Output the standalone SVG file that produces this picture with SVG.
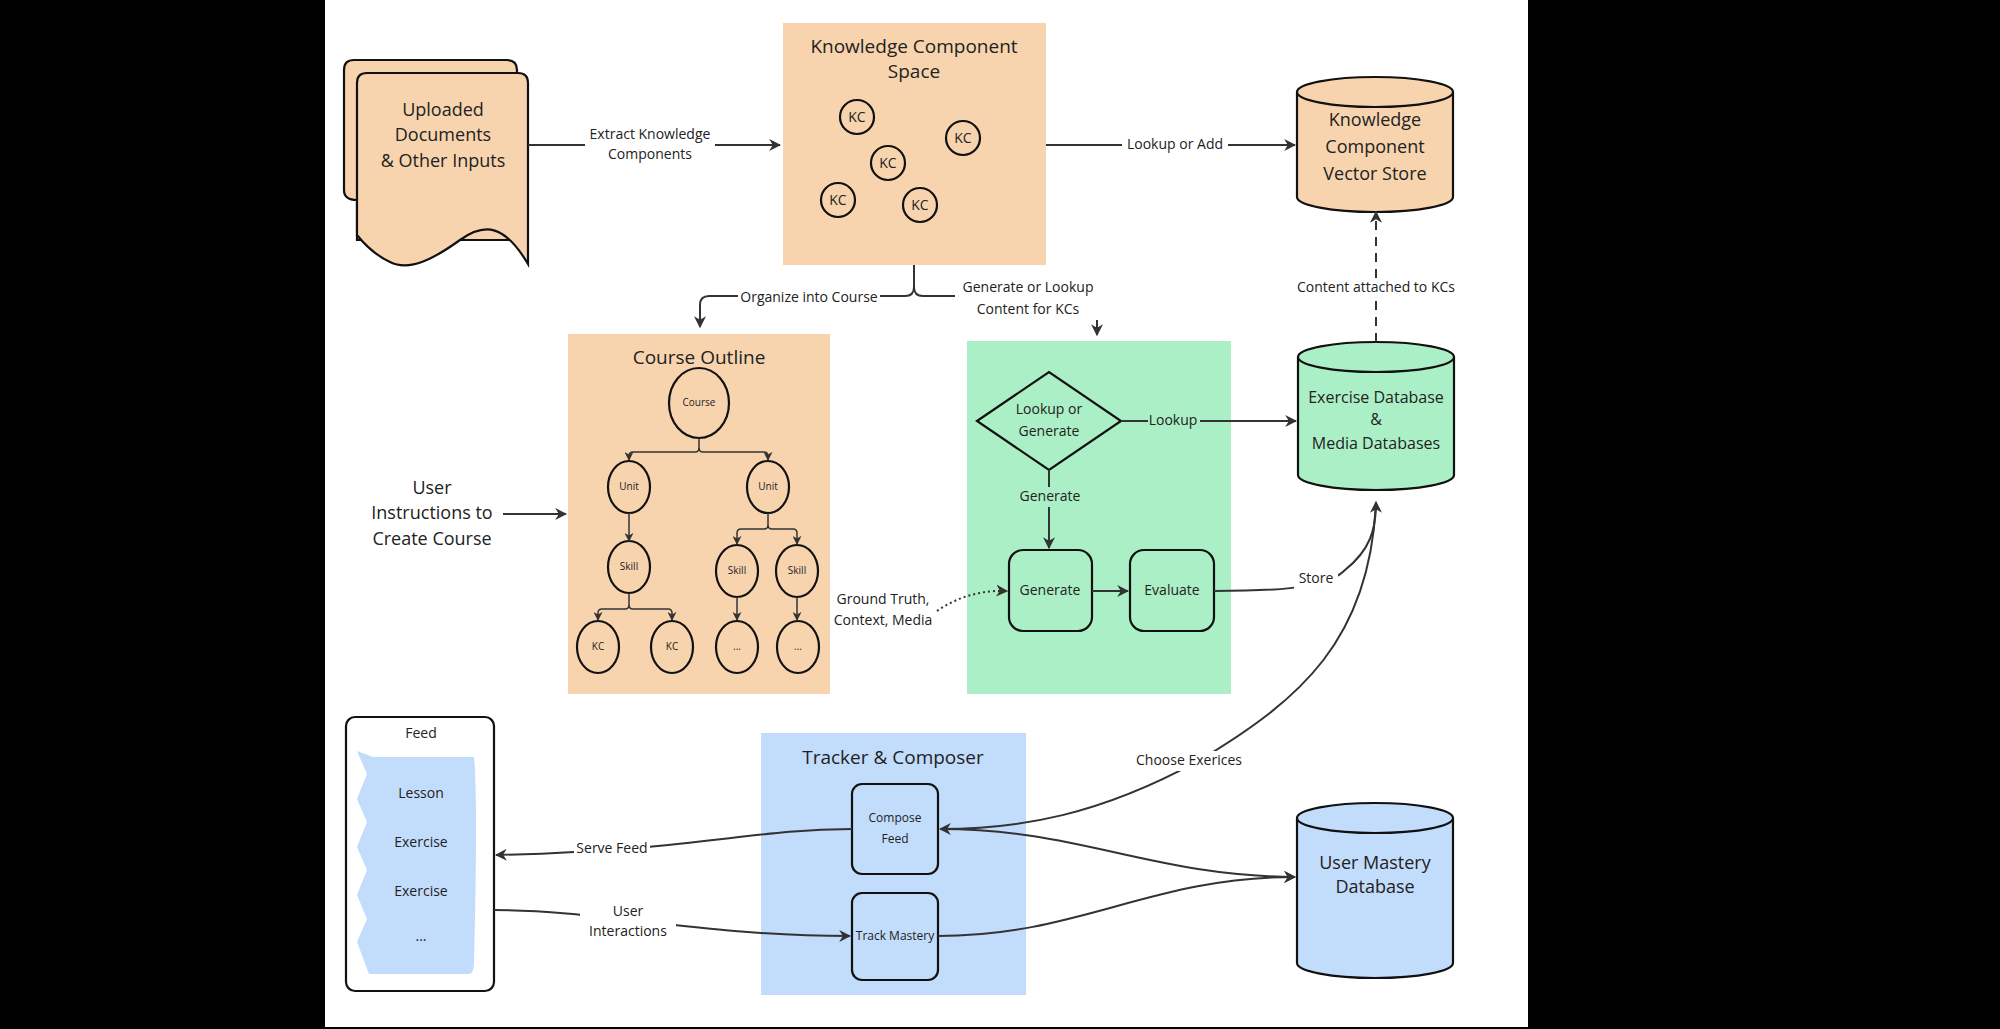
<svg xmlns="http://www.w3.org/2000/svg" width="2000" height="1029" viewBox="0 0 2000 1029">
<defs>
<style>
text{font-family:"Open Sans","Noto Sans",sans-serif;fill:#222;text-anchor:middle;dominant-baseline:middle}
.t{font-size:18px}.s{font-size:14px}.xs{font-size:10px}.h{font-size:19px}
.sh{stroke:#111;stroke-width:2.2}
.c{fill:none;stroke:#333;stroke-width:2}
.peach{fill:#f7d4ae}.green{fill:#abefc6}.blue{fill:#c2dcfb}
.lbl{fill:#fff}
</style>
<marker id="a" viewBox="0 0 10 10" refX="9" refY="5" markerWidth="6" markerHeight="6" orient="auto-start-reverse"><path d="M0,0L10,5L0,10L3,5z" fill="#333"/></marker>
</defs>
<rect width="2000" height="1029" fill="#000"/>
<rect x="325" y="0" width="1203" height="1027" fill="#fff"/>

<g id="docs">
<path class="peach sh" d="M344,70q0,-10 10,-10h153q10,0 10,10v170h-160v-40q-13,0 -13,-10z"/>
<path class="peach sh" d="M357,83q0,-10 10,-10h151q10,0 10,10v181C505,225 485,222 460,240C435,258 410,272 390,262C375,255 365,245 357,235z"/>
<text class="t" x="443" y="111">Uploaded</text><text class="t" x="443" y="136">Documents</text><text class="t" x="443" y="162">&amp; Other Inputs</text>
</g>
<g id="kcspace">
<rect class="peach" x="783" y="23" width="263" height="242"/>
<text class="h" x="914" y="48">Knowledge Component</text><text class="h" x="914" y="73">Space</text>
<g class="sh" fill="none"><circle cx="857" cy="117" r="17"/><circle cx="963" cy="138" r="17"/><circle cx="888" cy="163" r="17"/><circle cx="838" cy="200" r="17"/><circle cx="920" cy="205" r="17"/></g>
<g class="s"><text x="857" y="118">KC</text><text x="963" y="139">KC</text><text x="888" y="164">KC</text><text x="838" y="201">KC</text><text x="920" y="206">KC</text></g>
</g>
<g id="kcstore">
<path class="peach sh" d="M1297,92v105a78,15 0 0 0 156,0v-105"/>
<ellipse class="peach sh" cx="1375" cy="92" rx="78" ry="15"/>
<text class="t" x="1375" y="121">Knowledge</text><text class="t" x="1375" y="148">Component</text><text class="t" x="1375" y="175">Vector Store</text>
</g>
<g id="course">
<rect class="peach" x="568" y="334" width="262" height="360"/>
<text class="h" x="699" y="359">Course Outline</text>
<g class="sh" fill="none">
<ellipse cx="699" cy="403" rx="30" ry="35"/>
<ellipse cx="629" cy="487" rx="21" ry="26"/><ellipse cx="768" cy="487" rx="21" ry="26"/>
<ellipse cx="629" cy="567" rx="21" ry="26"/><ellipse cx="737" cy="571" rx="21" ry="26"/><ellipse cx="797" cy="571" rx="21" ry="26"/>
<ellipse cx="598" cy="647" rx="21" ry="26"/><ellipse cx="672" cy="647" rx="21" ry="26"/><ellipse cx="737" cy="647" rx="21" ry="26"/><ellipse cx="798" cy="647" rx="21" ry="26"/>
</g>
<g class="xs"><text x="699" y="403">Course</text><text x="629" y="487">Unit</text><text x="768" y="487">Unit</text><text x="629" y="567">Skill</text><text x="737" y="571">Skill</text><text x="797" y="571">Skill</text><text x="598" y="647">KC</text><text x="672" y="647">KC</text><text x="737" y="647">...</text><text x="798" y="647">...</text></g>
<g fill="none" stroke="#333" stroke-width="1.5" marker-end="url(#a)">
<path d="M699,438v10q0,4 -4,4h-62q-4,0 -4,4v4"/><path d="M699,448q0,4 4,4h61q4,0 4,4v4"/>
<path d="M629,513v28"/>
<path d="M768,513v12q0,4 -4,4h-23q-4,0 -4,4v11"/><path d="M768,525q0,4 4,4h21q4,0 4,4v11"/>
<path d="M629,593v12q0,4 -4,4h-23q-4,0 -4,4v7"/><path d="M629,605q0,4 4,4h35q4,0 4,4v7"/>
<path d="M737,597v23"/><path d="M797,597v23"/>
</g>
</g>
<g id="userinstr"><text class="t" x="432" y="489">User</text><text class="t" x="432" y="514">Instructions to</text><text class="t" x="432" y="540">Create Course</text></g>
<g id="genbox">
<rect class="green" x="967" y="341" width="264" height="353"/>
<path class="sh" fill="none" d="M977,421L1049,372L1121,421L1049,470z"/>
<text class="s" x="1049" y="410">Lookup or</text><text class="s" x="1049" y="432">Generate</text>
<rect class="sh" fill="none" x="1009" y="550" width="83" height="81" rx="14"/><text class="s" x="1050" y="591">Generate</text>
<rect class="sh" fill="none" x="1130" y="550" width="84" height="81" rx="14"/><text class="s" x="1172" y="591">Evaluate</text>
</g>
<g id="exdb">
<path class="green sh" d="M1298,357v118a78,15 0 0 0 156,0v-118"/>
<ellipse class="green sh" cx="1376" cy="357" rx="78" ry="15"/>
<text x="1376" y="399" style="font-size:16px">Exercise Database</text><text x="1376" y="421" style="font-size:16px">&amp;</text><text x="1376" y="445" style="font-size:16px">Media Databases</text>
</g>
<g id="feed">
<rect fill="#fff" class="sh" x="346" y="717" width="148" height="274" rx="9"/>
<text class="s" x="421" y="734">Feed</text>
<path class="blue" d="M373,757h101q4,40 0,205q0,12 -5,12h-100l-12,-32l10,-23l-10,-24l10,-25l-10,-23l10,-25l-10,-23l10,-25l-10,-23z"/>
<text class="s" x="421" y="794">Lesson</text><text class="s" x="421" y="843">Exercise</text><text class="s" x="421" y="892">Exercise</text><text class="s" x="421" y="937">...</text>
</g>
<g id="tracker">
<rect class="blue" x="761" y="733" width="265" height="262"/>
<text class="h" x="893" y="759">Tracker &amp; Composer</text>
<rect class="sh" fill="none" x="852" y="784" width="86" height="90" rx="10"/><text x="895" y="819" style="font-size:12px">Compose</text><text x="895" y="840" style="font-size:12px">Feed</text>
<rect class="sh" fill="none" x="852" y="893" width="86" height="87" rx="10"/><text x="895" y="937" style="font-size:12px">Track Mastery</text>
</g>
<g id="umdb">
<path class="blue sh" d="M1297,818v145a78,15 0 0 0 156,0v-145"/>
<ellipse class="blue sh" cx="1375" cy="818" rx="78" ry="15"/>
<text class="t" x="1375" y="864">User Mastery</text><text class="t" x="1375" y="888">Database</text>
</g>

<g id="connectors">
<path class="c" d="M528,145H780" marker-end="url(#a)"/>
<rect class="lbl" x="585" y="124" width="130" height="40"/><text class="s" x="650" y="135">Extract Knowledge</text><text class="s" x="650" y="155">Components</text>
<path class="c" d="M1046,145H1295" marker-end="url(#a)"/>
<rect class="lbl" x="1122" y="135" width="106" height="20"/><text class="s" x="1175" y="145">Lookup or Add</text>
<path class="c" d="M1376,342V212" stroke-dasharray="9,7" marker-end="url(#a)"/>
<rect class="lbl" x="1290" y="278" width="172" height="20"/><text class="s" x="1376" y="288">Content attached to KCs</text>
<path class="c" d="M914,265v22q0,9 -9,9h-196q-9,0 -9,9v22" marker-end="url(#a)"/>
<path class="c" d="M914,287q0,9 9,9h165q9,0 9,9v30" marker-end="url(#a)"/>
<rect class="lbl" x="738" y="288" width="142" height="20"/><text class="s" x="809" y="298">Organize into Course</text>
<rect class="lbl" x="955" y="278" width="146" height="42"/><text class="s" x="1028" y="288">Generate or Lookup</text><text class="s" x="1028" y="310">Content for KCs</text>
<path class="c" d="M503,514H566" marker-end="url(#a)"/>
<path class="c" d="M1121,421H1296" marker-end="url(#a)"/>
<rect style="fill:#abefc6" x="1148" y="411" width="52" height="20"/><text class="s" x="1173" y="421">Lookup</text>
<path class="c" d="M1049,470V548" marker-end="url(#a)"/>
<rect style="fill:#abefc6" x="1015" y="487" width="70" height="20"/><text class="s" x="1050" y="497">Generate</text>
<path class="c" d="M1092,591H1128" marker-end="url(#a)"/>
<path class="c" d="M1214,591C1300,591 1330,585 1345,570C1370,550 1376,530 1376,502" marker-end="url(#a)"/>
<rect class="lbl" x="1294" y="569" width="44" height="20"/><text class="s" x="1316" y="579">Store</text>
<path class="c" d="M937,611C960,595 985,590 1007,591" stroke-dasharray="2,3" marker-end="url(#a)"/>
<text class="s" x="883" y="600">Ground Truth,</text><text class="s" x="883" y="621">Context, Media</text>
<path class="c" d="M1376,502C1370,640 1300,700 1200,760C1100,815 1020,829 940,829" marker-end="url(#a)"/>
<rect class="lbl" x="1134" y="751" width="110" height="20"/><text class="s" x="1189" y="761">Choose Exerices</text>
<path class="c" d="M940,829C1080,829 1150,876 1295,877" marker-end="url(#a)"/>
<path class="c" d="M938,936C1080,936 1150,877 1295,877" marker-end="url(#a)"/>
<path class="c" d="M852,829C750,829 700,850 496,855" marker-end="url(#a)"/>
<rect class="lbl" x="574" y="839" width="76" height="20"/><text class="s" x="612" y="849">Serve Feed</text>
<path class="c" d="M494,910C600,910 700,936 850,936" marker-end="url(#a)"/>
<rect class="lbl" x="580" y="902" width="96" height="40"/><text class="s" x="628" y="912">User</text><text class="s" x="628" y="932">Interactions</text>
</g>
</svg>
